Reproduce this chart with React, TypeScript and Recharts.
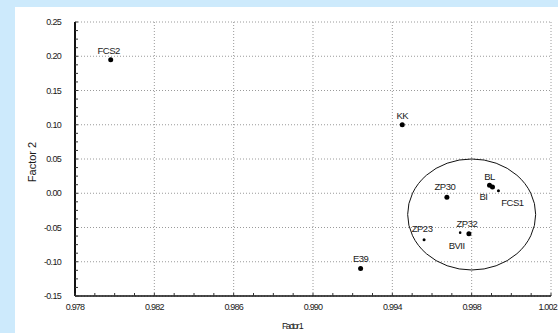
import React from "react";
import {
  ScatterChart,
  Scatter,
  XAxis,
  YAxis,
  CartesianGrid,
  ReferenceDot,
} from "recharts";

// samples and their coordinates on the two factors
const names = ["FCS2", "KK", "E39", "ZP30", "BL", "BI", "FCS1", "ZP32", "BVII", "ZP23"];
const factor1 = [0.9798, 0.9945, 0.9924, 0.99675, 0.9989, 0.99905, 0.99935, 0.99786, 0.99742, 0.9956];
const factor2 = [0.195, 0.1, -0.11, -0.006, 0.0115, 0.009, 0.0035, -0.059, -0.0575, -0.068];

const xTicks = [0.978, 0.982, 0.986, 0.99, 0.994, 0.998, 1.002];
const yTicks = [-0.15, -0.1, -0.05, 0, 0.05, 0.1, 0.15, 0.2, 0.25];

// cluster outline centre (data units)
const clusterCenter = { x: 0.998, y: -0.031 };

// marker radius and label offset per sample
const dotRadius: Record<string, number> = {
  FCS2: 2.5, KK: 2.5, E39: 2.5, ZP30: 2.5, BL: 2.5, BI: 2.5,
  FCS1: 1.5, ZP32: 2.5, BVII: 1.3, ZP23: 1.5,
};
const labelOffset: Record<string, [number, number]> = {
  FCS2: [-2, -9], KK: [0, -9.5], E39: [0, -10.5], ZP30: [-2, -11],
  BL: [0, -9], BI: [-9, 9.5], FCS1: [14, 12], ZP32: [-2, -10],
  BVII: [-3.5, 13], ZP23: [-2, -11],
};

const points = names.map((name, i) => ({ name, x: factor1[i], y: factor2[i] }));

// minor tick marks along the frame
const xMinor: number[] = [];
for (let i = 0; i <= 24; i++) xMinor.push(+(0.978 + i * 0.001).toFixed(3));
const yMinor: number[] = [];
for (let i = 0; i <= 32; i++) yMinor.push(+(-0.15 + i * 0.0125).toFixed(4));

const isIn = (list: number[], v: number) => list.some((t) => Math.abs(t - v) < 1e-7);

const FONT = "'Liberation Sans', Arial, sans-serif";
const INK = "#1a1a1a";
const X_MAX = xTicks[xTicks.length - 1];

const BottomTick = (props: any) => {
  const { x, y, payload } = props;
  const v = payload.value;
  // last label sits flush with the chart's right edge
  const last = Math.abs(v - X_MAX) < 1e-7;
  return (
    <g>
      <line x1={x} x2={x} y1={y} y2={y - 3} stroke="#333" strokeWidth={1} />
      {isIn(xTicks, v) && (
        <text x={last ? x + 6 : x} y={y + 11} textAnchor={last ? "end" : "middle"}
          dominantBaseline="central"
          fontFamily={FONT} fontSize={9} letterSpacing={-0.8} fill={INK}>
          {v.toFixed(3)}
        </text>
      )}
    </g>
  );
};

const LeftTick = (props: any) => {
  const { x, y, payload } = props;
  const v = payload.value;
  return (
    <g>
      <line x1={x} x2={x + 3} y1={y} y2={y} stroke="#333" strokeWidth={1} />
      {isIn(yTicks, v) && (
        <text x={x - 14} y={y} textAnchor="end" dominantBaseline="central"
          fontFamily={FONT} fontSize={9} letterSpacing={-0.7} fill={INK}>
          {v.toFixed(2)}
        </text>
      )}
    </g>
  );
};

const TopTick = (props: any) => {
  const { x, y } = props;
  return <line x1={x} x2={x} y1={y} y2={y + 3} stroke="#444" strokeWidth={1} />;
};

const RightTick = (props: any) => {
  const { x, y } = props;
  return <line x1={x} x2={x - 3} y1={y} y2={y} stroke="#444" strokeWidth={1} />;
};

const SampleDot = (props: any) => {
  const { cx, cy, payload } = props;
  const [dx, dy] = labelOffset[payload.name] ?? [0, -10];
  return (
    <g>
      <circle cx={cx} cy={cy} r={dotRadius[payload.name] ?? 2.5} fill="#000" />
      <text x={cx + dx} y={cy + dy} textAnchor="middle" dominantBaseline="central"
        fontFamily={FONT} fontSize={9.5} letterSpacing={-0.5} fill={INK}>
        {payload.name}
      </text>
    </g>
  );
};

export default function App() {
  return (
    <div style={{ position: "absolute", left: 0, top: 0, width: 558, height: 333, background: "#cdeafc" }}>
      <div style={{ position: "absolute", left: 15, top: 7, width: 543, height: 326, background: "#fff" }}>
        <ScatterChart width={543} height={326} margin={{ top: 15, right: 7, bottom: 0, left: 0 }}>
          <CartesianGrid
            stroke="#9a9a9a"
            strokeDasharray="1 2"
            verticalValues={xTicks}
            horizontalValues={yTicks}
          />
          <XAxis
            type="number"
            dataKey="x"
            domain={[0.978, 1.002]}
            allowDataOverflow
            ticks={xMinor}
            interval={0}
            height={37}
            tickSize={0}
            tickMargin={0}
            tickLine={false}
            tick={<BottomTick />}
            axisLine={{ stroke: "#111", strokeWidth: 1.5 }}
            label={{
              content: (p: any) => (
                <text x={p.viewBox.x + p.viewBox.width / 2 - 21} y={p.viewBox.y + 30}
                  textAnchor="middle" dominantBaseline="central"
                  fontFamily={FONT} fontSize={9} letterSpacing={-1.6} fill={INK}>
                  Factor 1
                </text>
              ),
            }}
          />
          <YAxis
            type="number"
            dataKey="y"
            domain={[-0.15, 0.25]}
            allowDataOverflow
            ticks={yMinor}
            interval={0}
            width={60}
            tickSize={0}
            tickMargin={0}
            tickLine={false}
            tick={<LeftTick />}
            axisLine={{ stroke: "#111", strokeWidth: 2 }}
            label={{
              content: (p: any) => {
                const cx = 17;
                const cy = p.viewBox.y + p.viewBox.height / 2 + 3;
                return (
                  <text x={cx} y={cy} transform={`rotate(-90 ${cx} ${cy})`}
                    textAnchor="middle" dominantBaseline="central"
                    fontFamily={FONT} fontSize={11} fill={INK}>
                    Factor 2
                  </text>
                );
              },
            }}
          />
          <XAxis
            xAxisId="top"
            orientation="top"
            type="number"
            domain={[0.978, 1.002]}
            allowDataOverflow
            ticks={xMinor}
            interval={0}
            height={0}
            tickSize={0}
            tickMargin={0}
            tickLine={false}
            tick={<TopTick />}
            axisLine={{ stroke: "#555", strokeWidth: 1.5 }}
          />
          <YAxis
            yAxisId="right"
            orientation="right"
            type="number"
            domain={[-0.15, 0.25]}
            allowDataOverflow
            ticks={yMinor}
            interval={0}
            width={0}
            tickSize={0}
            tickMargin={0}
            tickLine={false}
            tick={<RightTick />}
            axisLine={{ stroke: "#555", strokeWidth: 1.5 }}
          />
          <Scatter data={points} shape={<SampleDot />} isAnimationActive={false} />
          <ReferenceDot
            x={clusterCenter.x}
            y={clusterCenter.y}
            shape={(p: any) => (
              <ellipse cx={p.cx} cy={p.cy} rx={64} ry={55.5} fill="none" stroke="#111" strokeWidth={1} />
            )}
          />
        </ScatterChart>
      </div>
    </div>
  );
}
